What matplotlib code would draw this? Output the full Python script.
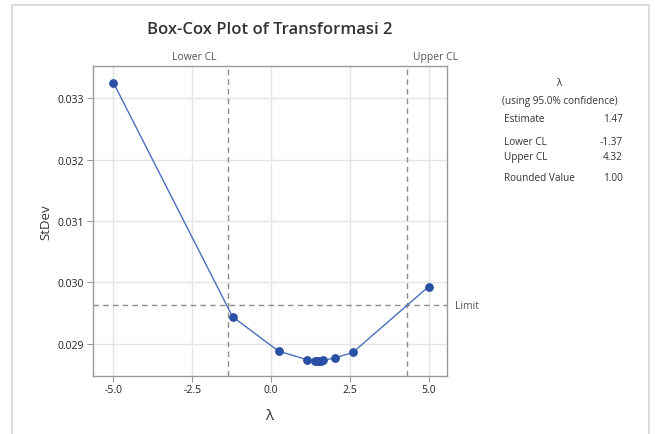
import numpy as np
import matplotlib
matplotlib.use("Agg")
import matplotlib.pyplot as plt
from matplotlib.patches import Rectangle

# Box-Cox profile: standard deviation at each lambda
lam = [-5.0, -1.22, 0.24, 1.15, 1.40, 1.47, 1.53, 1.60, 1.65, 2.04, 2.60, 5.0]
stdev = [0.03325, 0.02944, 0.02888, 0.02874, 0.02872, 0.02872, 0.02872,
         0.02872, 0.02873, 0.02877, 0.02886, 0.02993]

estimate = 1.47
lower_cl = -1.37
upper_cl = 4.32
rounded = 1.00
limit = 0.02963

x_ticks = [-5.0, -2.5, 0.0, 2.5, 5.0]
y_ticks = [0.029, 0.030, 0.031, 0.032, 0.033]

plt.rcParams['font.family'] = ['Open Sans', 'DejaVu Sans']
txt = '#333333'
grey = '#8c8c8c'

fig = plt.figure(figsize=(6.55, 4.35), dpi=100)
W, H = 655, 435

# light outer frame
fig.patches.append(Rectangle((12 / W, -0.05), (649 - 12) / W, 1.05 - 6 / H,
                             transform=fig.transFigure, fill=False,
                             edgecolor='#dddddd', linewidth=1.5))

ax = fig.add_axes([92.7 / W, 1 - 376.7 / H, (446.5 - 92.7) / W, (376.7 - 67.3) / H])
ax.set_xlim(-5.66, 5.57)
ax.set_ylim(0.02848, 0.03352)
ax.set_xticks(x_ticks)
ax.set_xticklabels([f"{t:.1f}" for t in x_ticks])
ax.set_yticks(y_ticks)
ax.set_yticklabels([f"{t:.3f}" for t in y_ticks])
ax.grid(True, color='#e4e4e4', linewidth=1)
ax.set_axisbelow(True)
for s in ax.spines.values():
    s.set_color('#9a9a9a')
    s.set_linewidth(1)
ax.tick_params(length=4, color='#9a9a9a', labelsize=7.5, labelcolor='#222222', pad=2)

# confidence limits and threshold
ax.axvline(lower_cl, color=grey, linestyle='--', linewidth=1, dashes=(4, 3))
ax.axvline(upper_cl, color=grey, linestyle='--', linewidth=1, dashes=(4, 3))
ax.axhline(limit, color=grey, linestyle='--', linewidth=1, dashes=(4, 3))

ax.plot(lam, stdev, color='#4a6fbf', linewidth=1, marker='o', markersize=5.3,
        markerfacecolor='#2a50a5', markeredgecolor='#2a50a5', zorder=3)

ax.annotate('Lower CL', xy=(lower_cl, 1), xycoords=('data', 'axes fraction'),
            xytext=(-8, 3), textcoords='offset points', ha='right', va='bottom',
            fontsize=7.5, color='#555555')
ax.annotate('Upper CL', xy=(upper_cl, 1), xycoords=('data', 'axes fraction'),
            xytext=(4, 3), textcoords='offset points', ha='left', va='bottom',
            fontsize=7.5, color='#555555')
ax.annotate('Limit', xy=(1, limit), xycoords=('axes fraction', 'data'),
            xytext=(6, 0), textcoords='offset points', ha='left', va='center',
            fontsize=7.5, color='#555555')

ax.set_xlabel('λ', fontsize=11, color=txt, labelpad=9)
ax.set_ylabel('StDev', fontsize=9.5, color=txt, labelpad=4)
fig.text(270 / W, 1 - 30 / H, 'Box-Cox Plot of Transformasi 2', ha='center',
         va='center', fontsize=12, fontweight='semibold', color=txt)

# summary panel
fs = 7.2
fig.text(559 / W, 1 - 83 / H, 'λ', ha='center', va='center', fontsize=fs, color=txt)
fig.text(560 / W, 1 - 101.7 / H, '(using 95.0% confidence)', ha='center',
         va='center', fontsize=fs, color=txt)
rows = [('Estimate', f"{estimate:.2f}", 120),
        ('Lower CL', f"{lower_cl:.2f}", 142.3),
        ('Upper CL', f"{upper_cl:.2f}", 157.7),
        ('Rounded Value', f"{rounded:.2f}", 179)]
for name, val, yp in rows:
    fig.text(504 / W, 1 - yp / H, name, ha='left', va='center', fontsize=fs, color=txt)
    fig.text(623 / W, 1 - yp / H, val, ha='right', va='center', fontsize=fs, color=txt)

fig.savefig('out.png', dpi=100)
